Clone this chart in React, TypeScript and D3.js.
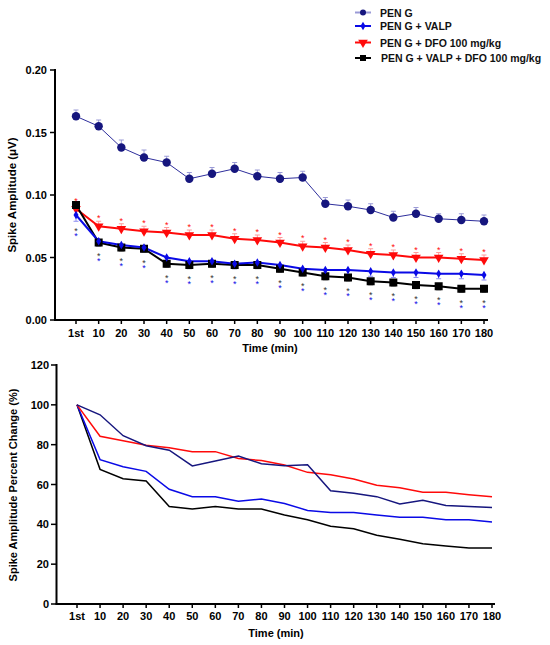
import * as d3 from 'd3'

const TIMES = ['1st', '10', '20', '30', '40', '50', '60', '70', '80', '90', '100', '110', '120', '130', '140', '150', '160', '170', '180']

// top panel: raw amplitude (µV) with SEM
const PEN_G = [0.163, 0.155, 0.138, 0.130, 0.126, 0.113, 0.117, 0.121, 0.115, 0.113, 0.114, 0.093, 0.091, 0.088, 0.082, 0.085, 0.081, 0.080, 0.079]
const PEN_G_ERR = [0.005, 0.005, 0.006, 0.006, 0.005, 0.005, 0.005, 0.005, 0.005, 0.005, 0.005, 0.005, 0.005, 0.005, 0.005, 0.005, 0.004, 0.005, 0.005]
const VALP = [0.084, 0.063, 0.060, 0.058, 0.050, 0.047, 0.047, 0.045, 0.046, 0.044, 0.041, 0.040, 0.040, 0.039, 0.038, 0.038, 0.037, 0.037, 0.036]
const VALP_ERR = [0.005, 0.004, 0.004, 0.004, 0.004, 0.004, 0.004, 0.004, 0.004, 0.004, 0.004, 0.004, 0.004, 0.004, 0.004, 0.004, 0.004, 0.004, 0.004]
const DFO = [0.089, 0.075, 0.073, 0.071, 0.070, 0.068, 0.068, 0.065, 0.064, 0.062, 0.059, 0.058, 0.056, 0.053, 0.052, 0.050, 0.050, 0.049, 0.048]
const DFO_ERR = [0.004, 0.004, 0.004, 0.004, 0.004, 0.004, 0.004, 0.004, 0.004, 0.004, 0.004, 0.004, 0.004, 0.004, 0.004, 0.004, 0.004, 0.004, 0.004]
const COMBO = [0.092, 0.062, 0.058, 0.057, 0.045, 0.044, 0.045, 0.044, 0.044, 0.041, 0.038, 0.035, 0.034, 0.031, 0.030, 0.028, 0.027, 0.025, 0.025]
const COMBO_ERR = [0.003, 0.003, 0.003, 0.003, 0.003, 0.003, 0.003, 0.003, 0.003, 0.003, 0.003, 0.003, 0.003, 0.003, 0.003, 0.003, 0.003, 0.003, 0.003]

// bottom panel: percent of first value
const PEN_G_PCT = [100, 95.0, 84.5, 79.5, 77.2, 69.3, 71.8, 74.3, 70.4, 69.4, 69.9, 56.9, 55.6, 53.9, 50.2, 52.1, 49.5, 48.9, 48.4]
const VALP_PCT = [100, 72.5, 68.9, 66.6, 57.6, 53.9, 53.9, 51.6, 52.7, 50.5, 47.0, 45.9, 45.9, 44.7, 43.5, 43.5, 42.3, 42.3, 41.2]
const DFO_PCT = [100, 84.2, 82.0, 79.7, 78.5, 76.5, 76.5, 73.1, 72.0, 69.8, 66.1, 64.9, 62.8, 59.6, 58.4, 56.1, 56.1, 54.9, 53.9]
const COMBO_PCT = [100, 67.6, 62.9, 61.8, 48.9, 47.7, 48.9, 47.7, 47.7, 44.7, 42.3, 39.0, 37.8, 34.5, 32.5, 30.3, 29.1, 28.1, 28.1]

const TOP_TICKS = [0, 0.05, 0.1, 0.15, 0.2]
const BOTTOM_TICKS = [0, 20, 40, 60, 80, 100, 120]

const LEGEND = ['PEN G', 'PEN G + VALP', 'PEN G + DFO 100 mg/kg', 'PEN G + VALP + DFO 100 mg/kg']

const NAVY = '#16167e'
const NAVY_LINE = '#2e2e9c'
const NAVY_ERR = '#9a9ad6'
const BLUE = '#0a0ae6'
const BLUE_ERR = '#8c8cf0'
const RED = '#ff0a0a'
const RED_ERR = '#ff9a9a'
const BLACK = '#000000'
const GREY_ERR = '#9a9a9a'
const FONT = "'Liberation Sans', Arial, sans-serif"

const W = 550
const H = 645
const STAR_SIZE = 9
const STAR_SHIFT = 5.2 // baseline offset so the glyph is centred on y

const triangle = d3.symbol(d3.symbolTriangle, 40)()
const diamond = d3.symbol(d3.symbolDiamond, 22)()

export default function App() {
  const xTop = d3.scalePoint<string>().domain(TIMES).range([76, 484])
  const yTop = d3.scaleLinear().domain([0, 0.2]).range([320, 70])
  const xBot = d3.scalePoint<string>().domain(TIMES).range([77, 492])
  const yBot = d3.scaleLinear().domain([0, 120]).range([604, 365])

  const lineTop = (vals: number[]) =>
    d3.line<number>().x((_, i) => xTop(TIMES[i])!).y((d) => yTop(d))(vals)!
  const lineBot = (vals: number[]) =>
    d3.line<number>().x((_, i) => xBot(TIMES[i])!).y((d) => yBot(d))(vals)!

  const errBar = (vals: number[], errs: number[], dir: 1 | -1, color: string, key: string) =>
    vals.map((v, i) => {
      const cx = xTop(TIMES[i])!
      const y0 = yTop(v)
      const y1 = yTop(v + dir * errs[i])
      return (
        <g key={key + i} stroke={color} strokeWidth={1}>
          <line x1={cx} x2={cx} y1={y0} y2={y1} />
          <line x1={cx - 2.5} x2={cx + 2.5} y1={y1} y2={y1} />
        </g>
      )
    })

  return (
    <div style={{ position: 'absolute', left: 0, top: 0 }}>
      <svg width={W} height={H} style={{ display: 'block', background: '#fff' }} fontFamily={FONT}>
        {/* legend */}
        {LEGEND.map((label, i) => {
          const ly = [12.5, 26, 42.5, 58][i]
          const lineColor = [NAVY_ERR, BLUE, RED, BLACK][i]
          return (
            <g key={label}>
              <line x1={355} x2={371} y1={ly} y2={ly} stroke={lineColor} strokeWidth={2} />
              {i === 0 && <circle cx={363} cy={ly} r={3} fill={NAVY} />}
              {i === 1 && <path d={diamond} transform={`translate(363,${ly})`} fill={BLUE} />}
              {i === 2 && <path d={triangle} transform={`translate(363,${ly}) rotate(180)`} fill={RED} />}
              {i === 3 && <rect x={360} y={ly - 3} width={6} height={6} fill={BLACK} />}
              <text x={i === 3 ? 381 : 380} y={ly + 4} fontSize={10.5} fontWeight="bold" fill="#111">{label}</text>
            </g>
          )
        })}

        {/* ---------- top panel ---------- */}
        <g>
          <line x1={55} x2={55} y1={69} y2={320.5} stroke="#000" strokeWidth={2} />
          <line x1={54} x2={488} y1={320} y2={320} stroke="#000" strokeWidth={2} />
          {TOP_TICKS.map((t) => (
            <g key={t}>
              <line x1={50} x2={55} y1={yTop(t)} y2={yTop(t)} stroke="#000" strokeWidth={1.5} />
              <text x={47} y={yTop(t) + 4} textAnchor="end" fontSize={11} fontWeight="bold">{t.toFixed(2)}</text>
            </g>
          ))}
          {TIMES.map((t) => (
            <g key={t}>
              <line x1={xTop(t)!} x2={xTop(t)!} y1={320} y2={324} stroke="#000" strokeWidth={1.5} />
              <text x={xTop(t)!} y={337} textAnchor="middle" fontSize={11} fontWeight="bold">{t}</text>
            </g>
          ))}
          <text x={270} y={352} textAnchor="middle" fontSize={11} fontWeight="bold">Time (min)</text>
          <text transform="translate(16,195) rotate(-90)" textAnchor="middle" fontSize={11.5} fontWeight="bold">Spike Amplitude (μV)</text>

          {/* error bars */}
          {errBar(PEN_G, PEN_G_ERR, 1, NAVY_ERR, 'pe')}
          {errBar(DFO, DFO_ERR, 1, RED_ERR, 'de')}
          {errBar(VALP, VALP_ERR, -1, BLUE_ERR, 've')}
          {errBar(COMBO, COMBO_ERR, -1, GREY_ERR, 'ce')}

          {/* lines */}
          <path d={lineTop(PEN_G)} fill="none" stroke={NAVY_LINE} strokeWidth={1} />
          <path d={lineTop(DFO)} fill="none" stroke={RED} strokeWidth={2} />
          <path d={lineTop(COMBO)} fill="none" stroke={BLACK} strokeWidth={2} />
          <path d={lineTop(VALP)} fill="none" stroke={BLUE} strokeWidth={2} />

          {/* markers */}
          {PEN_G.map((v, i) => (
            <circle key={'p' + i} cx={xTop(TIMES[i])!} cy={yTop(v)} r={4.2} fill={NAVY} />
          ))}
          {DFO.map((v, i) => (
            <path key={'d' + i} d={triangle} transform={`translate(${xTop(TIMES[i])},${yTop(v)}) rotate(180)`} fill={RED} />
          ))}
          {COMBO.map((v, i) => (
            <rect key={'c' + i} x={xTop(TIMES[i])! - 4} y={yTop(v) - 4} width={8} height={8} fill={BLACK} />
          ))}
          {VALP.map((v, i) => (
            <path key={'v' + i} d={diamond} transform={`translate(${xTop(TIMES[i])},${yTop(v)})`} fill={BLUE} />
          ))}

          {/* significance marks */}
          {DFO.map((v, i) => (
            <text key={'rs' + i} x={xTop(TIMES[i])!} y={yTop(v + DFO_ERR[i]) - 5 + STAR_SHIFT}
              fill={RED} fontSize={STAR_SIZE} textAnchor="middle">*</text>
          ))}
          {TIMES.map((t, i) => {
            const low = Math.min(COMBO[i] - COMBO_ERR[i], VALP[i] - VALP_ERR[i])
            const base = yTop(low)
            const cx = xTop(t)!
            return (
              <text key={'ks' + i} fontSize={STAR_SIZE} textAnchor="middle">
                <tspan x={cx} y={base + 8 + STAR_SHIFT} fill="#333">*</tspan>
                <tspan x={cx} dy={5} fill={BLUE}>*</tspan>
              </text>
            )
          })}
        </g>

        {/* ---------- bottom panel ---------- */}
        <g>
          <line x1={56.5} x2={56.5} y1={364} y2={604.5} stroke="#000" strokeWidth={2} />
          <line x1={55.5} x2={495} y1={604} y2={604} stroke="#000" strokeWidth={2} />
          {BOTTOM_TICKS.map((t) => (
            <g key={t}>
              <line x1={51} x2={56.5} y1={yBot(t)} y2={yBot(t)} stroke="#000" strokeWidth={1.5} />
              <text x={49} y={yBot(t) + 4} textAnchor="end" fontSize={11} fontWeight="bold">{t}</text>
            </g>
          ))}
          {TIMES.map((t) => (
            <g key={t}>
              <line x1={xBot(t)!} x2={xBot(t)!} y1={604} y2={608} stroke="#000" strokeWidth={1.5} />
              <text x={xBot(t)!} y={620} textAnchor="middle" fontSize={11} fontWeight="bold">{t}</text>
            </g>
          ))}
          <text x={276} y={637} textAnchor="middle" fontSize={11} fontWeight="bold">Time (min)</text>
          <text transform="translate(17,485) rotate(-90)" textAnchor="middle" fontSize={11} fontWeight="bold">Spike Amplitude Percent Change (%)</text>

          <path d={lineBot(COMBO_PCT)} fill="none" stroke={BLACK} strokeWidth={1.5} />
          <path d={lineBot(VALP_PCT)} fill="none" stroke={BLUE} strokeWidth={1.5} />
          <path d={lineBot(DFO_PCT)} fill="none" stroke={RED} strokeWidth={1.5} />
          <path d={lineBot(PEN_G_PCT)} fill="none" stroke={NAVY} strokeWidth={1.5} />
        </g>
      </svg>
    </div>
  )
}
